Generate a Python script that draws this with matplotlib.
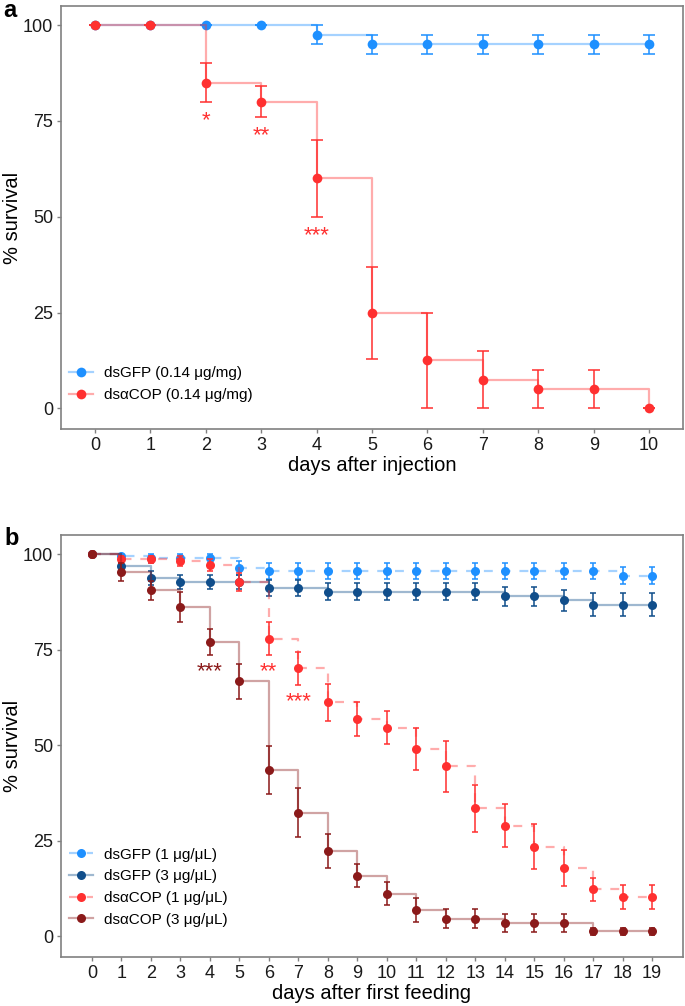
import matplotlib
matplotlib.use("Agg")
import matplotlib.pyplot as plt
from matplotlib.lines import Line2D

plt.rcParams['font.family'] = ['Liberation Sans', 'DejaVu Sans']

# ---- panel a : injection ----
days_a = [0, 1, 2, 3, 4, 5, 6, 7, 8, 9, 10]
gfp_a = [100, 100, 100, 100, 97.5, 95, 95, 95, 95, 95, 95]
gfp_a_err = [0, 0, 0, 0, 2.5, 2.5, 2.5, 2.5, 2.5, 2.5, 2.5]
cop_a = [100, 100, 85, 80, 60, 25, 12.5, 7.5, 5, 5, 0]
cop_a_err = [0, 0, 5, 4, 10, 12, 12.5, 7.5, 5, 5, 0]
stars_a = [(2, 77.0, '*'), (3, 73.1, '**'), (4, 47.0, '***')]
labels_a = ['dsGFP (0.14 μg/mg)', 'dsαCOP (0.14 μg/mg)']

# ---- panel b : feeding ----
days_b = list(range(20))
gfp1_b = [100, 99.4, 98.9, 98.9, 98.9, 96.4, 95.6, 95.6, 95.6, 95.6, 95.6,
          95.6, 95.6, 95.6, 95.6, 95.6, 95.6, 95.6, 94.4, 94.4]
gfp1_b_err = [0, 0.6, 1.1, 1.1, 1.1, 1.9, 2.0, 2.0, 2.0, 2.0, 2.0,
              2.0, 2.0, 2.0, 2.0, 2.0, 2.0, 2.0, 2.1, 2.1]
gfp3_b = [100, 96.9, 93.7, 92.7, 92.7, 92.7, 91.1, 91.1, 90.2, 90.2, 90.2,
          90.2, 90.2, 90.2, 89.0, 89.0, 87.9, 86.8, 86.8, 86.8]
gfp3_b_err = [0, 1.2, 1.8, 1.8, 1.8, 1.8, 2.0, 2.0, 2.2, 2.2, 2.2,
              2.2, 2.2, 2.2, 2.5, 2.5, 2.7, 3.0, 3.0, 3.0]
cop1_b = [100, 98.6, 98.6, 98.2, 97.2, 92.7, 77.9, 70.1, 61.2, 56.8, 54.6,
          49.0, 44.5, 33.5, 29.0, 23.5, 17.9, 12.3, 10.3, 10.3]
cop1_b_err = [0, 1.0, 1.0, 1.2, 1.5, 2.3, 4.4, 4.4, 4.8, 4.5, 4.4,
              5.4, 6.7, 6.1, 5.5, 5.9, 4.8, 3.0, 3.1, 3.1]
cop3_b = [100, 95.3, 90.5, 86.2, 76.9, 66.7, 43.5, 32.4, 22.3, 15.8, 11.2,
          6.9, 4.6, 4.6, 3.5, 3.5, 3.5, 1.3, 1.3, 1.3]
cop3_b_err = [0, 2.4, 2.4, 3.9, 3.4, 4.5, 6.2, 6.3, 4.5, 3.0, 3.0,
              3.2, 2.5, 2.5, 2.4, 2.4, 2.4, 1.0, 1.0, 1.0]
stars_b = [(4, 71.2, '***', '#8b1a1a'), (6, 71.2, '**', '#ff3030'), (7, 63.3, '***', '#ff3030')]
labels_b = ['dsGFP (1 μg/μL)', 'dsGFP (3 μg/μL)', 'dsαCOP (1 μg/μL)', 'dsαCOP (3 μg/μL)']

c_blue = '#1e90ff'
c_navy = '#104e8b'
c_red = '#ff3030'
c_dred = '#8b1a1a'

fig = plt.figure(figsize=(6.85, 10.06), dpi=100)
ax_a = fig.add_axes([61/685, 1-429/1006, 622/685, 423/1006])
ax_b = fig.add_axes([61/685, 1-957/1006, 622/685, 422/1006])


def draw_series(ax, x, y, err, color, ls, capsize, ms):
    ax.step(x, y, where='post', color=color, alpha=0.4, lw=1.6, linestyle=ls)
    ax.errorbar(x, y, yerr=err, fmt='none', ecolor=color, elinewidth=1.3,
                capsize=capsize, capthick=1.3, alpha=0.85)
    ax.plot(x, y, 'o', color=color, ms=ms, mec='none')
    h_line = Line2D([], [], color=color, alpha=0.4, lw=1.6, linestyle=ls)
    h_mark = Line2D([], [], color=color, marker='o', ms=ms, linestyle='none', mec='none')
    return (h_line, h_mark)


def style_axes(ax, xticks, xlim, xlabel):
    ax.set_xlim(*xlim)
    ax.set_ylim(-5.4, 105)
    ax.set_xticks(xticks)
    ax.set_yticks([0, 25, 50, 75, 100])
    for s in ax.spines.values():
        s.set_color('#808080')
        s.set_linewidth(1.2)
    ax.tick_params(direction='out', length=3, width=1, color='#808080',
                   labelsize=13, labelcolor='#1a1a1a', pad=2.5)
    ax.set_xlabel(xlabel, fontsize=14.5, labelpad=2)
    ax.set_ylabel('% survival', fontsize=14.5)
    ax.yaxis.set_label_coords(-0.063, 0.5)


def stars(ax, x, y, s, color):
    # y is the visual centre of the asterisks; shift to baseline
    ax.text(x, y - 3.3, s, color=color, fontsize=16, ha='center', va='baseline')


# panel a
h1 = draw_series(ax_a, days_a, gfp_a, gfp_a_err, c_blue, '-', 4, 7)
h2 = draw_series(ax_a, days_a, cop_a, cop_a_err, c_red, '-', 4, 7)
for x, y, s in stars_a:
    stars(ax_a, x, y, s, c_red)
style_axes(ax_a, days_a, (-0.61, 10.61), 'days after injection')
ax_a.legend([h1, h2], labels_a, loc='upper left', bbox_to_anchor=(0.005, 0.16),
            frameon=False, fontsize=11, handlelength=1.6, handletextpad=0.7,
            labelspacing=0.55, borderpad=0.3, borderaxespad=0)

# panel b
hb1 = draw_series(ax_b, days_b, gfp1_b, gfp1_b_err, c_blue, (0, (4, 4)), 2.5, 6.5)
hb2 = draw_series(ax_b, days_b, gfp3_b, gfp3_b_err, c_navy, '-', 2.5, 6.5)
hb3 = draw_series(ax_b, days_b, cop1_b, cop1_b_err, c_red, (0, (4, 4)), 2.5, 6.5)
hb4 = draw_series(ax_b, days_b, cop3_b, cop3_b_err, c_dred, '-', 2.5, 6.5)
for x, y, s, c in stars_b:
    stars(ax_b, x, y, s, c)
style_axes(ax_b, days_b, (-1.05, 20.05), 'days after first feeding')
ax_b.legend([hb1, hb2, hb3, hb4], labels_b, loc='upper left', bbox_to_anchor=(0.005, 0.27),
            frameon=False, fontsize=11, handlelength=1.6, handletextpad=0.7,
            labelspacing=0.5, borderpad=0.3, borderaxespad=0)

fig.text(3/685, 1-17/1006, 'a', fontsize=17, fontweight='bold', va='baseline')
fig.text(4/685, 1-545/1006, 'b', fontsize=17, fontweight='bold', va='baseline')

fig.savefig('out.png', dpi=100)
